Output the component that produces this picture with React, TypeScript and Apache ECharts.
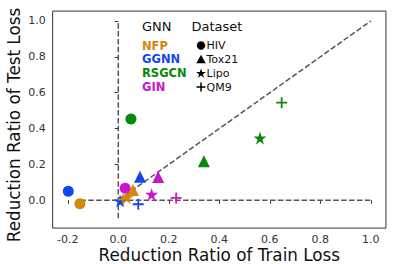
import React, { useEffect, useRef } from "react";
import * as echarts from "echarts";

const gnnNames = ["NFP", "GGNN", "RSGCN", "GIN"];
const datasetNames = ["HIV", "Tox21", "Lipo", "QM9"];
// reduction ratio of train / test loss, per GNN, in dataset order (HIV, Tox21, Lipo, QM9)
const trainNFP = [-0.152, 0.058, 0.033, 0.02];
const testNFP = [-0.019, 0.058, 0.015, 0.005];
const trainGGNN = [-0.198, 0.086, 0.007, 0.079];
const testGGNN = [0.05, 0.132, -0.004, -0.022];
const trainRSGCN = [0.05, 0.339, 0.561, 0.647];
const testRSGCN = [0.453, 0.218, 0.347, 0.544];
const trainGIN = [0.027, 0.158, 0.132, 0.229];
const testGIN = [0.067, 0.13, 0.033, 0.013];
const xTicks = [-0.2, 0.0, 0.2, 0.4, 0.6, 0.8, 1.0];
const yTicks = [0.0, 0.2, 0.4, 0.6, 0.8, 1.0];
const xTitle = "Reduction Ratio of Train Loss";
const yTitle = "Reduction Ratio of Test Loss";
// reference dashed lines
const vLine = [[0, -0.1], [0, 1.0]];
const hLine = [[-0.15, 0], [1.0, 0]];
const diagLine = [[0, 0], [1.0, 1.0]];

const COLORS = ["#d4870a", "#1446f0", "#0a880a", "#cc14cc"];
const STAR = "path://M50,0 L61.2,34.5 L97.6,34.5 L68.2,55.9 L79.4,90.5 L50,69.1 L20.6,90.5 L31.8,55.9 L2.4,34.5 L38.8,34.5 Z";
const PLUS = "path://M42,0 H58 V42 H100 V58 H58 V100 H42 V58 H0 V42 H42 Z";
const SYMBOLS = ["circle", "triangle", STAR, PLUS];
const SIZES = [11, 12, 13, 11];
const FONT = "DejaVu Sans";

export default function App() {
  const ref = useRef<HTMLDivElement>(null);
  useEffect(() => {
    if (!ref.current) return;
    const chart = echarts.init(ref.current, null, { renderer: "svg" });
    const trains = [trainNFP, trainGGNN, trainRSGCN, trainGIN];
    const tests = [testNFP, testGGNN, testRSGCN, testGIN];
    const dashStyle = { color: "#555", width: 1.5, type: [5.5, 2.4] as any };
    const lineSeries = [vLine, hLine, diagLine].map((d) => ({
      type: "line",
      data: d,
      symbol: "none",
      lineStyle: dashStyle,
      z: 1,
      silent: true,
    }));
    const scatterSeries = datasetNames.map((ds, di) => ({
      type: "scatter",
      name: ds,
      symbol: SYMBOLS[di],
      symbolSize: SIZES[di],
      z: 3,
      data: gnnNames.map((g, gi) => ({
        value: [trains[gi][di], tests[gi][di]],
        itemStyle: { color: COLORS[gi], opacity: 1 },
      })),
    }));

    const rowY = [45.5, 59.3, 73.1, 87];
    const graphics: any[] = [
      { type: "text", left: 142, top: 20, style: { text: "GNN", font: `13px "${FONT}"`, fill: "#111" } },
      { type: "text", left: 191.5, top: 20, style: { text: "Dataset", font: `13px "${FONT}"`, fill: "#111" } },
      {
        type: "text",
        x: 219.3,
        y: 255,
        style: { text: xTitle, font: `16.8px "${FONT}"`, fill: "#111", align: "center", verticalAlign: "middle" },
      },
      {
        type: "text",
        x: 13.5,
        y: 125,
        rotation: Math.PI / 2,
        style: { text: yTitle, font: `16.8px "${FONT}"`, fill: "#111", align: "center", verticalAlign: "middle" },
      },
    ];
    gnnNames.forEach((g, i) => {
      graphics.push({
        type: "text",
        x: 142,
        y: rowY[i],
        style: { text: g, font: `bold 11.5px "${FONT}"`, fill: COLORS[i], verticalAlign: "middle" },
      });
    });
    datasetNames.forEach((d, i) => {
      graphics.push({
        type: "text",
        x: 206.5,
        y: rowY[i],
        style: { text: d, font: `11px "${FONT}"`, fill: "#111", verticalAlign: "middle" },
      });
    });
    const mx = 201;
    graphics.push({ type: "circle", shape: { cx: mx, cy: rowY[0], r: 4.2 }, style: { fill: "#000" } });
    graphics.push({
      type: "polygon",
      shape: { points: [[mx, rowY[1] - 4.5], [mx - 4.7, rowY[1] + 4], [mx + 4.7, rowY[1] + 4]] },
      style: { fill: "#000" },
    });
    const starPts: number[][] = [];
    for (let k = 0; k < 10; k++) {
      const r = k % 2 === 0 ? 5.2 : 2.0;
      const a = (k * Math.PI) / 5;
      starPts.push([mx + r * Math.sin(a), rowY[2] + 0.5 - r * Math.cos(a)]);
    }
    graphics.push({ type: "polygon", shape: { points: starPts }, style: { fill: "#000" } });
    graphics.push({ type: "line", shape: { x1: mx - 4.5, y1: rowY[3], x2: mx + 4.5, y2: rowY[3] }, style: { stroke: "#000", lineWidth: 1.5 } });
    graphics.push({ type: "line", shape: { x1: mx, y1: rowY[3] - 4.5, x2: mx, y2: rowY[3] + 4.5 }, style: { stroke: "#000", lineWidth: 1.5 } });

    chart.setOption({
      animation: false,
      backgroundColor: "#fff",
      grid: {
        left: 52.65,
        right: 12.05,
        top: 11.1,
        bottom: 35.9,
        containLabel: false,
        outerBoundsMode: "none",
        show: true,
        borderColor: "#333",
        borderWidth: 1,
        backgroundColor: "transparent",
      },
      xAxis: {
        type: "value",
        min: -0.26,
        max: 1.06,
        axisLine: { show: false },
        axisTick: { show: true, inside: false, length: 3.5, lineStyle: { color: "#333" }, customValues: xTicks },
        axisLabel: {
          customValues: xTicks,
          fontFamily: FONT,
          fontSize: 11,
          color: "#333",
          margin: 6,
          formatter: (v: number) => v.toFixed(1),
        },
        splitLine: { show: false },
      },
      yAxis: {
        type: "value",
        min: -0.155,
        max: 1.055,
        axisLine: { show: false },
        axisTick: { show: true, inside: false, length: 3.5, lineStyle: { color: "#333" }, customValues: yTicks },
        axisLabel: {
          customValues: yTicks,
          fontFamily: FONT,
          fontSize: 11,
          color: "#333",
          margin: 7,
          formatter: (v: number) => v.toFixed(1),
        },
        splitLine: { show: false },
      },
      series: [...lineSeries, ...scatterSeries],
      graphic: graphics,
    });
    return () => chart.dispose();
  }, []);
  return <div ref={ref} style={{ width: 398, height: 264, position: "absolute", left: 0, top: 0 }} />;
}
